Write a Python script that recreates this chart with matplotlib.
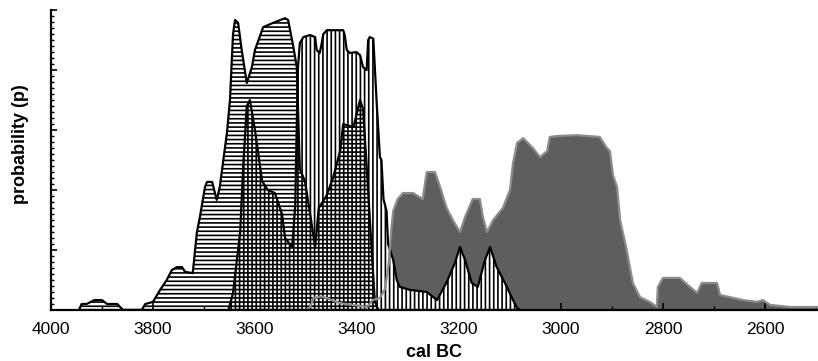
import numpy as np
import matplotlib.pyplot as plt
from matplotlib.ticker import MultipleLocator

plt.rcParams['font.family'] = ['Liberation Sans', 'DejaVu Sans']
plt.rcParams['hatch.linewidth'] = 1.2

# horizontally hatched distribution (cal BC, probability)
years_a = [3945, 3940, 3930, 3915, 3900, 3890, 3870, 3859, 3822, 3815, 3800, 3786,
           3773, 3763, 3753, 3743, 3737, 3722, 3714, 3708, 3698, 3694, 3684, 3675,
           3669, 3655, 3649, 3643, 3639, 3633, 3626, 3616, 3606, 3600, 3584, 3565,
           3541, 3535, 3525, 3518, 3512, 3502, 3490, 3482, 3475, 3460, 3447, 3433,
           3427, 3407, 3394, 3388, 3381, 3375, 3369, 3365, 3358]
prob_a = [0, 0.02, 0.02, 0.033, 0.033, 0.02, 0.02, 0, 0, 0.02, 0.027, 0.067,
          0.10, 0.133, 0.143, 0.143, 0.127, 0.123, 0.257, 0.31, 0.41, 0.427, 0.427, 0.367,
          0.41, 0.59, 0.70, 0.92, 0.967, 0.957, 0.867, 0.757, 0.81, 0.867, 0.943, 0.957,
          0.973, 0.967, 0.88, 0.81, 0.47, 0.43, 0.30, 0.21, 0.34, 0.38, 0.44, 0.53,
          0.62, 0.61, 0.70, 0.67, 0.48, 0.31, 0.14, 0.03, 0]

# vertically hatched distribution
years_b = [3652, 3643, 3629, 3623, 3616, 3610, 3600, 3586, 3575, 3561, 3547, 3541,
           3527, 3521, 3516, 3512, 3505, 3492, 3482, 3479, 3473, 3469, 3466, 3459,
           3427, 3424, 3420, 3414, 3401, 3394, 3388, 3381, 3378, 3375, 3368, 3365,
           3361, 3355, 3352, 3348, 3342, 3339, 3335, 3329, 3322, 3316, 3296, 3263,
           3243, 3224, 3208, 3198, 3188, 3175, 3163, 3149, 3139, 3126, 3106, 3094,
           3086, 3080]
prob_b = [0, 0.057, 0.26, 0.48, 0.68, 0.70, 0.60, 0.43, 0.40, 0.39, 0.32, 0.24,
          0.21, 0.35, 0.80, 0.89, 0.91, 0.917, 0.91, 0.867, 0.857, 0.89, 0.92, 0.933,
          0.933, 0.917, 0.867, 0.857, 0.86, 0.85, 0.81, 0.80, 0.90, 0.91, 0.905, 0.81,
          0.68, 0.51, 0.50, 0.37, 0.33, 0.22, 0.20, 0.167, 0.10, 0.077, 0.067, 0.06,
          0.033, 0.093, 0.157, 0.21, 0.167, 0.09, 0.077, 0.167, 0.21, 0.143, 0.077, 0.033,
          0.007, 0]

# grey distribution
years_d = [3500, 3492, 3485, 3470, 3459, 3445, 3433, 3400, 3380, 3369, 3355, 3345,
           3338, 3332, 3329, 3320, 3310, 3290, 3271, 3265, 3263, 3247, 3237, 3224,
           3212, 3198, 3188, 3173, 3159, 3153, 3145, 3133, 3114, 3100, 3094, 3086,
           3074, 3055, 3041, 3027, 3022, 3008, 2969, 2924, 2910, 2904, 2898, 2890,
           2884, 2871, 2859, 2845, 2826, 2812, 2810, 2800, 2767, 2747, 2733, 2724,
           2694, 2688, 2669, 2643, 2616, 2604, 2590, 2551, 2498]
prob_d = [0, 0.01, 0.04, 0.045, 0.04, 0.03, 0.023, 0.015, 0.01, 0.033, 0.04, 0.07,
          0.15, 0.28, 0.33, 0.37, 0.39, 0.39, 0.37, 0.44, 0.46, 0.46, 0.41, 0.34,
          0.30, 0.26, 0.31, 0.37, 0.37, 0.31, 0.26, 0.30, 0.34, 0.40, 0.49, 0.557,
          0.573, 0.54, 0.51, 0.53, 0.577, 0.58, 0.583, 0.577, 0.54, 0.53, 0.45, 0.41,
          0.30, 0.20, 0.09, 0.043, 0.027, 0.01, 0.077, 0.107, 0.107, 0.077, 0.057, 0.09,
          0.09, 0.05, 0.043, 0.033, 0.027, 0.033, 0.017, 0.01, 0.01]

fig = plt.figure(figsize=(8.18, 3.61), dpi=100)
ax = fig.add_axes([0.0623, 0.1413, 0.9377, 0.8307])

ax.fill_between(years_d, prob_d, 0, facecolor='#5e5e5e', edgecolor='none', zorder=1)
ax.fill_between(years_b, prob_b, 0, facecolor='white', edgecolor='black',
                hatch='||||', linewidth=1.6, zorder=2)
ax.fill_between(years_a, prob_a, 0, facecolor='none', edgecolor='black',
                hatch='----', linewidth=1.6, zorder=3)
ax.plot(years_d, prob_d, color='#8c8c8c', linewidth=1.6, zorder=4)

ax.set_xlim(4000, 2496)
ax.set_ylim(0, 1)
ax.xaxis.set_major_locator(MultipleLocator(200))
ax.xaxis.set_minor_locator(MultipleLocator(100))
ax.yaxis.set_major_locator(MultipleLocator(0.2))
ax.yaxis.set_minor_locator(MultipleLocator(0.02))
ax.set_yticklabels([])
ax.tick_params(axis='x', which='major', direction='in', length=5, width=1.2,
               labelsize=12.5, pad=9)
ax.tick_params(axis='x', which='minor', direction='in', length=3, width=1)
ax.tick_params(axis='y', which='major', direction='in', length=4, width=1.2)
ax.tick_params(axis='y', which='minor', direction='in', length=2, width=1)

for side in ['top', 'right']:
    ax.spines[side].set_visible(False)
for side in ['left', 'bottom']:
    ax.spines[side].set_linewidth(1.6)
    ax.spines[side].set_zorder(5)

ax.set_xlabel('cal BC', fontsize=13, fontweight='bold', labelpad=5)
fig.text(0.025, 0.6, 'probability (p)', rotation=90, fontsize=13,
         fontweight='bold', ha='center', va='center')

fig.savefig('out.png', dpi=100)
